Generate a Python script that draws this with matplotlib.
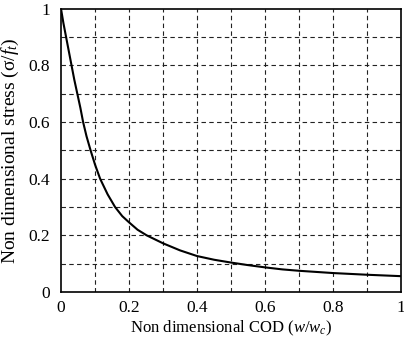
import matplotlib
matplotlib.use("Agg")
import matplotlib.pyplot as plt

# Data
cod = [0.0, 0.007, 0.015, 0.023, 0.031, 0.039, 0.048, 0.057, 0.065, 0.075, 0.087, 0.1, 0.115,
       0.137, 0.159, 0.18, 0.2, 0.225, 0.252, 0.3, 0.35, 0.4, 0.45, 0.5, 0.55, 0.6, 0.65,
       0.7, 0.8, 0.9, 1.0]
stress = [1.0, 0.95, 0.9, 0.85, 0.8, 0.75, 0.7, 0.65, 0.6, 0.55, 0.5, 0.45, 0.4,
          0.345, 0.3, 0.268, 0.246, 0.22, 0.2, 0.172, 0.147, 0.127, 0.114, 0.104, 0.095, 0.087, 0.08,
          0.075, 0.067, 0.061, 0.056]
xticks = [0, 0.2, 0.4, 0.6, 0.8, 1]
yticks = [0, 0.2, 0.4, 0.6, 0.8, 1]
xtick_labels = ["0", "0.2", "0.4", "0.6", "0.8", "1"]
ytick_labels = ["0", "0.2", "0.4", "0.6", "0.8", "1"]
grid_vals = [0.1, 0.2, 0.3, 0.4, 0.5, 0.6, 0.7, 0.8, 0.9]

plt.rcParams['font.family'] = ['Liberation Serif', 'DejaVu Serif']
plt.rcParams['mathtext.fontset'] = 'custom'
plt.rcParams['mathtext.rm'] = 'Liberation Serif'
plt.rcParams['mathtext.it'] = 'Liberation Serif:italic'

fig = plt.figure(figsize=(4.04, 3.38), dpi=100)
ax = fig.add_axes([0.151, 0.136, 0.842, 0.838])

for g in grid_vals:
    ax.axvline(g, color='#222222', lw=0.8, ls=(0, (4, 3)), zorder=1)
    ax.axhline(g, color='#222222', lw=0.8, ls=(0, (4, 3)), zorder=1)

ax.plot(cod, stress, color='black', lw=1.5, zorder=3, solid_joinstyle='round')

ax.set_xlim(0, 1)
ax.set_ylim(0, 1)
ax.set_xticks(xticks)
ax.set_xticklabels(xtick_labels)
ax.set_yticks(yticks)
ax.set_yticklabels(ytick_labels)
ax.tick_params(length=0, labelsize=12.5)
ax.tick_params(axis='x', pad=6)
ax.tick_params(axis='y', pad=8)
for s in ax.spines.values():
    s.set_linewidth(1.2)

ax.set_xlabel(r"Non dimensional COD ($w/w_c$)", fontsize=12, labelpad=2)
ax.set_ylabel(r"Non dimensional stress (σ/$f_t$)", fontsize=14, labelpad=5)

fig.savefig("out.png", dpi=100)
